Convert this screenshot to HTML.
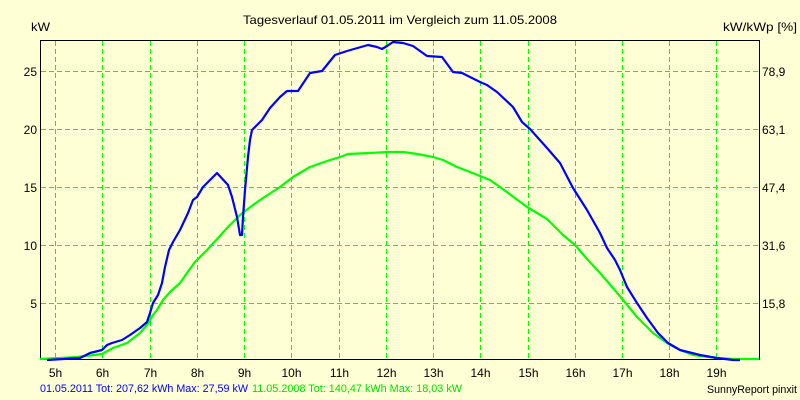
<!DOCTYPE html>
<html><head><meta charset="utf-8"><style>
html,body{margin:0;padding:0;background:#FFFFD6;}
svg{display:block;}
text{font-family:"Liberation Sans",Arial,sans-serif;}
</style></head><body>
<svg width="800" height="400" viewBox="0 0 800 400" xmlns="http://www.w3.org/2000/svg">
<rect x="0" y="0" width="800" height="400" fill="#FFFFD6"/>
<g stroke="#00FF00" stroke-width="1" stroke-dasharray="5,3" fill="none" shape-rendering="crispEdges">
<line x1="55.5" y1="41" x2="55.5" y2="359"/>
<line x1="102.5" y1="41" x2="102.5" y2="359"/>
<line x1="150.5" y1="41" x2="150.5" y2="359"/>
<line x1="197.5" y1="41" x2="197.5" y2="359"/>
<line x1="244.5" y1="41" x2="244.5" y2="359"/>
<line x1="291.5" y1="41" x2="291.5" y2="359"/>
<line x1="339.5" y1="41" x2="339.5" y2="359"/>
<line x1="386.5" y1="41" x2="386.5" y2="359"/>
<line x1="433.5" y1="41" x2="433.5" y2="359"/>
<line x1="480.5" y1="41" x2="480.5" y2="359"/>
<line x1="528.5" y1="41" x2="528.5" y2="359"/>
<line x1="575.5" y1="41" x2="575.5" y2="359"/>
<line x1="622.5" y1="41" x2="622.5" y2="359"/>
<line x1="669.5" y1="41" x2="669.5" y2="359"/>
<line x1="716.5" y1="41" x2="716.5" y2="359"/>
<line x1="41" y1="71.5" x2="759" y2="71.5"/>
<line x1="41" y1="129.5" x2="759" y2="129.5"/>
<line x1="41" y1="187.5" x2="759" y2="187.5"/>
<line x1="41" y1="245.5" x2="759" y2="245.5"/>
<line x1="41" y1="303.5" x2="759" y2="303.5"/>
</g>
<rect x="40.5" y="40.5" width="719" height="319" fill="none" stroke="#000" stroke-width="1.3" shape-rendering="crispEdges"/>
<polyline fill="none" stroke="#00FF00" stroke-width="2.2" stroke-linejoin="round" points="40,359 60,358 77,357 102,354 113,348 127,343 140,333 147,325 153,315 157,310 163,300 170,292 180,283 187,273 195,262 207,250 218,238 228,227 240,215 253,205 263,198 280,187 293,177 310,167 327,161 340,157 348,154 370,153 387,152 403,152 417,154 433,157 443,160 457,167 470,172 480,176 490,180 500,187 527,207 547,219 563,235 575,245 587,259 600,273 613,288 623,300 637,317 653,333 667,343 680,350 693,355 717,358 733,359 759,359"/>
<polyline fill="none" stroke="#0000FF" stroke-width="2.2" stroke-linejoin="round" points="47,360 80,358 90,353 102,350 107,345 112,343 122,340 130,335 140,328 147,322 150,313 153,303 158,295 162,283 165,267 169,250 173,242 180,230 188,213 193,200 197,197 203,187 210,180 217,173 228,185 232,197 237,217 240,235 242,235 243,217 245,190 248,157 250,140 252,130 257,125 262,120 270,108 280,97 287,91 298,91 310,73 322,71 335,55 347,51 368,45 377,47 382,49 387,46 393,42 403,43 413,46 427,56 442,57 453,72 462,73 480,82 487,85 497,92 513,107 522,122 530,129 547,148 560,163 573,188 587,210 600,233 607,248 615,260 620,270 627,287 637,303 647,318 658,333 668,343 680,350 700,355 717,358 733,360 740,360"/>
<g font-size="12" fill="#000">
<text x="400" y="24" text-anchor="middle" textLength="314" lengthAdjust="spacingAndGlyphs">Tagesverlauf 01.05.2011 im Vergleich zum 11.05.2008</text>
<text x="31" y="31" textLength="19" lengthAdjust="spacingAndGlyphs">kW</text>
<text x="723" y="31" textLength="74" lengthAdjust="spacingAndGlyphs">kW/kWp [%]</text>
<g text-anchor="end">
<text x="37" y="76">25</text>
<text x="37" y="134">20</text>
<text x="37" y="192">15</text>
<text x="37" y="250">10</text>
<text x="37" y="308">5</text>
</g>
<g>
<text x="762" y="76">78,9</text>
<text x="762" y="134">63,1</text>
<text x="762" y="192">47,4</text>
<text x="762" y="250">31,6</text>
<text x="762" y="308">15,8</text>
</g>
<g text-anchor="middle">
<text x="55.5" y="377">5h</text>
<text x="102.5" y="377">6h</text>
<text x="150.5" y="377">7h</text>
<text x="197.5" y="377">8h</text>
<text x="244.5" y="377">9h</text>
<text x="291.5" y="377">10h</text>
<text x="339.5" y="377">11h</text>
<text x="386.5" y="377">12h</text>
<text x="433.5" y="377">13h</text>
<text x="480.5" y="377">14h</text>
<text x="528.5" y="377">15h</text>
<text x="575.5" y="377">16h</text>
<text x="622.5" y="377">17h</text>
<text x="669.5" y="377">18h</text>
<text x="716.5" y="377">19h</text>
</g>
</g>
<g font-size="11">
<text x="40" y="392" fill="#0000FF" textLength="208" lengthAdjust="spacingAndGlyphs">01.05.2011 Tot: 207,62 kWh Max: 27,59 kW</text>
<text x="252" y="392" fill="#00E000" textLength="210" lengthAdjust="spacingAndGlyphs">11.05.2008 Tot: 140,47 kWh Max: 18,03 kW</text>
<text x="707" y="393" fill="#000" textLength="90" lengthAdjust="spacingAndGlyphs">SunnyReport pinxit</text>
</g>
</svg>
</body></html>
